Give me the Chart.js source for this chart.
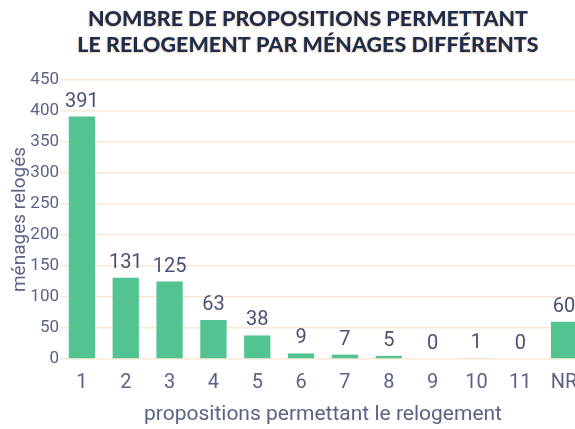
<!DOCTYPE html>
<html>
<head>
<meta charset="utf-8">
<script src="https://cdn.jsdelivr.net/npm/chart.js@4/dist/chart.umd.min.js"></script>
<style>
  html, body { margin: 0; padding: 0; overflow: hidden; background: #ffffff; }
  #wrap { width: 600px; height: 429px; }
</style>
</head>
<body>
<div id="wrap"><canvas id="c" width="600" height="429"></canvas></div>
<script>
const categories = ['1','2','3','4','5','6','7','8','9','10','11','NR'];
const menagesReloges = [391, 131, 125, 63, 38, 9, 7, 5, 0, 1, 0, 60];
const yTicks = [0, 50, 100, 150, 200, 250, 300, 350, 400, 450];
const titleLines = ['NOMBRE DE PROPOSITIONS PERMETTANT', 'LE RELOGEMENT PAR MÉNAGES DIFFÉRENTS'];
const xTitle = 'propositions permettant le relogement';
const yTitle = 'ménages relogés';

const sans = "Roboto, 'Open Sans', sans-serif";
const textColor = '#5a6386';
const labelColor = '#4a5274';

const valueLabels = {
  id: 'valueLabels',
  afterDatasetsDraw(chart) {
    const ctx = chart.ctx;
    const meta = chart.getDatasetMeta(0);
    ctx.save();
    ctx.font = "20px " + sans;
    ctx.fillStyle = labelColor;
    ctx.textAlign = 'center';
    ctx.textBaseline = 'bottom';
    meta.data.forEach((bar, i) => {
      ctx.fillText(String(menagesReloges[i]), bar.x, bar.y - 5);
    });
    ctx.restore();
  }
};

const chartTitle = {
  id: 'chartTitle',
  afterDraw(chart) {
    const ctx = chart.ctx;
    ctx.save();
    ctx.font = "900 21.5px Lato, Roboto, sans-serif";
    ctx.fillStyle = '#1c2e4c';
    ctx.textAlign = 'center';
    ctx.textBaseline = 'middle';
    ctx.shadowColor = 'rgba(235, 150, 90, 0.45)';
    ctx.shadowBlur = 1.5;
    ctx.shadowOffsetX = -1;
    ctx.shadowOffsetY = 1;
    titleLines.forEach((line, i) => ctx.fillText(line, 308, 19 + i * 26));
    ctx.restore();
  }
};

new Chart(document.getElementById('c'), {
  type: 'bar',
  data: {
    labels: categories,
    datasets: [{
      data: menagesReloges,
      backgroundColor: '#53c491',
      borderWidth: 0,
      barPercentage: 0.6,
      categoryPercentage: 1.0
    }]
  },
  options: {
    responsive: false,
    animation: false,
    devicePixelRatio: 1,
    layout: { padding: { left: 0, right: 14, top: 80, bottom: 0 } },
    plugins: {
      legend: { display: false },
      tooltip: { enabled: false },
      title: { display: false }
    },
    scales: {
      x: {
        grid: { display: false, drawTicks: false },
        border: { display: false },
        ticks: { color: textColor, font: { family: sans, size: 20 }, padding: 12, maxRotation: 0, autoSkip: false },
        title: { display: true, text: xTitle, color: textColor, font: { family: sans, size: 21 }, padding: { top: 0, bottom: 2 } },
        afterFit(scale) { scale.height = 70; }
      },
      y: {
        min: 0,
        max: 450,
        afterBuildTicks(scale) { scale.ticks = yTicks.map(v => ({ value: v })); },
        grid: { color: '#fde7d4', lineWidth: 1.5, drawTicks: false },
        border: { display: false },
        ticks: { color: textColor, font: { family: sans, size: 17 }, padding: 1 },
        title: { display: true, text: yTitle, color: textColor, font: { family: sans, size: 19 }, padding: { top: 9, bottom: 0 } },
        afterFit(scale) { scale.width = 60; }
      }
    }
  },
  plugins: [valueLabels, chartTitle]
});
</script>
</body>
</html>
